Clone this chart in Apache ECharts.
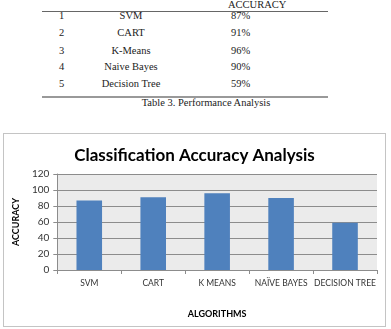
<!DOCTYPE html>
<html>
<head>
<meta charset="utf-8">
<script src="https://cdn.jsdelivr.net/npm/echarts@6/dist/echarts.min.js"></script>
<style>
body{margin:0;background:#fff;width:391px;height:329px;position:relative;overflow:hidden;font-family:"Liberation Serif",serif;}
.tbl{position:absolute;font-size:10.5px;color:#222;white-space:nowrap;}
.rule{position:absolute;left:42px;width:286px;}
#chart{position:absolute;left:3px;top:133px;width:381px;height:192px;border:1px solid #c4c4c4;}
</style>
</head>
<body>
<div class="rule" style="top:11px;border-top:1px solid #666;"></div>
<div class="rule" style="top:96px;border-top:2px solid #999;"></div>
<div id="tbl"></div>
<div id="chart"></div>
<script>
var rowNums=["1","2","3","4","5"];
var tableNames=["SVM","CART","K-Means","Naive Bayes","Decision Tree"];
var tableAcc=["87%","91%","96%","90%","59%"];
var categories=["SVM","CART","K MEANS","NAÏVE BAYES","DECISION TREE"];
var accuracy=[87,91,96,90,59];
var yTicks=[0,20,40,60,80,100,120];

function JTableDraw(){
	var rowY=[17,34,52,68,85];
	var h="<div class=\"tbl\" style=\"left:228px;top:-1px;\">ACCURACY</div>";
	for(var i=0;i<rowNums.length;i++){
		h+="<div class=\"tbl\" style=\"left:59px;top:"+(rowY[i]-7)+"px;\">"+rowNums[i]+"</div>";
		h+="<div class=\"tbl\" style=\"left:81px;width:100px;text-align:center;top:"+(rowY[i]-7)+"px;\">"+tableNames[i]+"</div>";
		h+="<div class=\"tbl\" style=\"left:231px;top:"+(rowY[i]-7)+"px;\">"+tableAcc[i]+"</div>";
	}
	h+="<div class=\"tbl\" style=\"left:0;width:412px;text-align:center;top:97px;\">Table 3. Performance Analysis</div>";
	document.getElementById("tbl").innerHTML=h;
}
JTableDraw();

var font="Lato, 'Open Sans', sans-serif";
var chart=echarts.init(document.getElementById("chart"));
chart.setOption({
	animation:false,
	title:{
		text:"Classification Accuracy Analysis",
		left:"center",
		top:8,
		textStyle:{fontFamily:font,fontSize:17,fontWeight:"bold",color:"#000"}
	},
	grid:{left:51,top:40,right:8,bottom:56,show:true,backgroundColor:"#ebebeb",borderWidth:0},
	xAxis:{
		type:"category",
		data:categories,
		name:"ALGORITHMS",
		nameLocation:"middle",
		nameGap:40,
		nameTextStyle:{fontFamily:font,fontSize:9,fontWeight:"bold",color:"#000"},
		axisLine:{lineStyle:{color:"#8c8c8c"}},
		axisTick:{show:true,length:4,lineStyle:{color:"#8c8c8c"}},
		axisLabel:{fontFamily:font,fontSize:8.5,color:"#333",margin:9,interval:0}
	},
	yAxis:{
		type:"value",
		min:0,
		max:120,
		interval:20,
		name:"ACCURACY",
		nameLocation:"middle",
		nameGap:26,
		nameTextStyle:{fontFamily:font,fontSize:9,fontWeight:"bold",color:"#000"},
		axisLine:{show:true,lineStyle:{color:"#8c8c8c"}},
		axisTick:{show:true,length:4,lineStyle:{color:"#8c8c8c"}},
		axisLabel:{fontFamily:font,fontSize:10,color:"#333",margin:8,
			formatter:function(v){return yTicks.indexOf(v)>=0?String(v):"";}},
		splitLine:{lineStyle:{color:"#8c8c8c"}}
	},
	series:[{
		type:"bar",
		data:accuracy,
		barWidth:"40%",
		itemStyle:{color:"#4f81bd"}
	}]
});
</script>
</body>
</html>
